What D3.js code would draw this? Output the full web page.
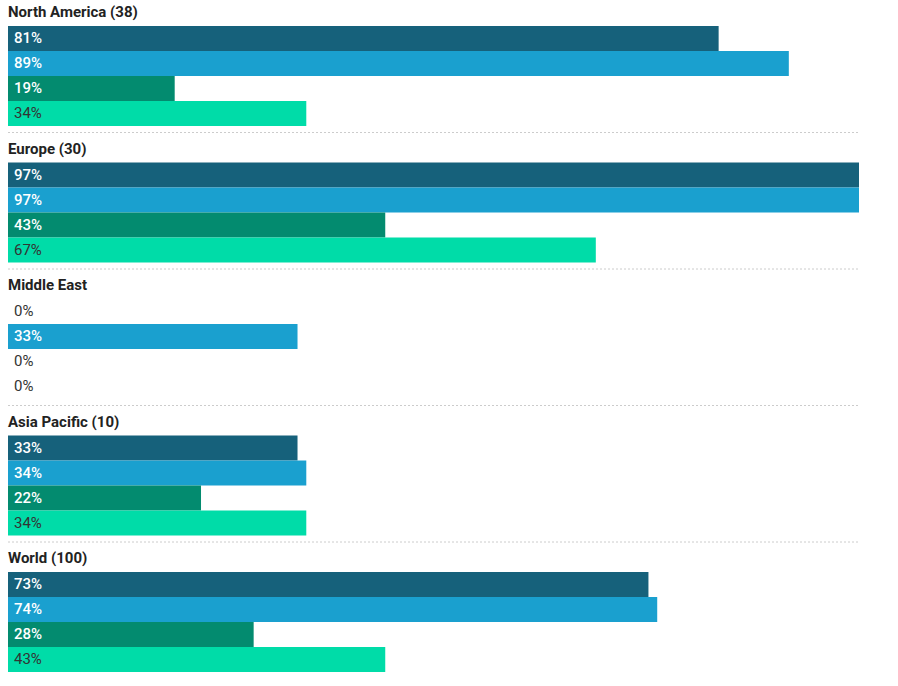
<!DOCTYPE html>
<html><head><meta charset="utf-8">
<script src="https://cdn.jsdelivr.net/npm/d3@7"></script>
<style>body{margin:0;background:#fff;font-family:Roboto,"Noto Sans",sans-serif;}</style>
</head><body><svg id="c" width="898" height="686"></svg>
<script>
const regions = ["North America (38)", "Europe (30)", "Middle East", "Asia Pacific (10)", "World (100)"];
const seriesNames = ["Series 1", "Series 2", "Series 3", "Series 4"];
const s1 = [81, 97, 0, 33, 73];
const s2 = [89, 97, 33, 34, 74];
const s3 = [19, 43, 0, 22, 28];
const s4 = [34, 67, 0, 34, 43];
const colors = ["#16617b", "#1aa0cf", "#038b6f", "#00dca8"];
const textColors = ["#ffffff", "#ffffff", "#ffffff", "#333333"];

const series = [s1, s2, s3, s4];
const svg = d3.select("#c");
const maxV = d3.max(series.flat());
const x = d3.scaleLinear().domain([0, maxV]).range([8, 859]);
const gy = d3.scaleLinear().domain([0, 1]).range([0, 136.5]);
const by = d3.scaleBand().domain(d3.range(4)).range([26, 126]).padding(0);

regions.forEach((r, i) => {
  const g = svg.append("g").attr("transform", `translate(0,${gy(i)})`);
  g.append("text").attr("x", 8).attr("y", 17).text(r)
    .attr("font-size", 15).attr("font-weight", 700).attr("fill", "#222");
  series.forEach((s, j) => {
    const v = s[i];
    g.append("rect").attr("x", x(0)).attr("y", by(j))
      .attr("width", x(v) - x(0)).attr("height", by.bandwidth())
      .attr("fill", colors[j]);
    g.append("text").attr("x", 14).attr("y", by(j) + by.bandwidth() / 2)
      .attr("dy", "0.3em").text(v + "%")
      .attr("font-size", 15)
      .attr("font-weight", (v > 0 && j < 3) ? 500 : 400)
      .attr("fill", v > 0 ? textColors[j] : "#333");
  });
  if (i < regions.length - 1) {
    g.append("line").attr("x1", 8).attr("x2", 859).attr("y1", 132.5).attr("y2", 132.5)
      .attr("stroke", "#cccccc").attr("stroke-width", 1).attr("stroke-dasharray", "2,2");
  }
});
</script></body></html>
